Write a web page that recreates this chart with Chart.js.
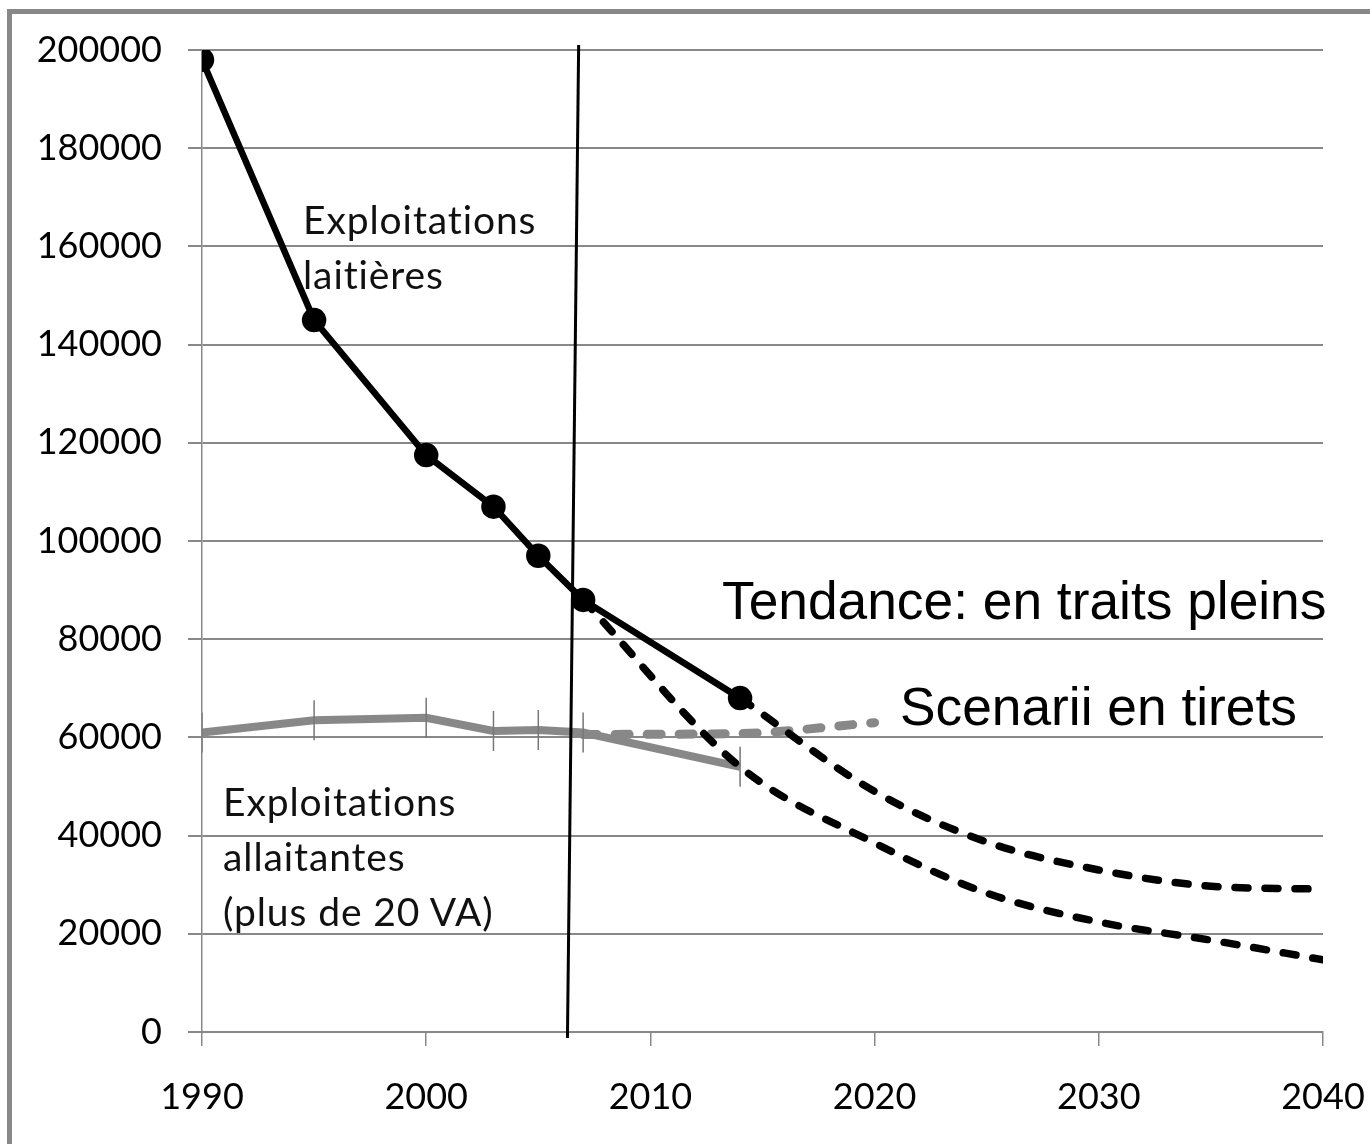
<!DOCTYPE html>
<html>
<head>
<meta charset="utf-8">
<script src="https://cdn.jsdelivr.net/npm/chart.js@4"></script>
<style>
  body { margin: 0; background: #fff; }
  #wrap { position: relative; width: 1370px; height: 1144px; overflow: hidden; }
  #frame { position: absolute; left: 7px; top: 9px; width: 1400px; height: 1200px;
           border-left: 5px solid #888; border-top: 5px solid #888; }
  canvas { position: absolute; left: 0; top: 0; }
  .note { position: absolute; color: #111; white-space: nowrap;
          font-variant-ligatures: none; font-feature-settings: "liga" 0, "clig" 0; }
  .calibri { font-family: Lato, "Open Sans", sans-serif; font-size: 39px; line-height: 55px; letter-spacing: 0.9px; }
  .arial { font-family: "Liberation Sans", Arial, sans-serif; font-size: 53.3px; line-height: 60px; color: #000; }
</style>
</head>
<body>
<div id="wrap">
  <div id="frame"></div>
  <canvas id="myChart" width="1370" height="1144"></canvas>
  <div class="note calibri" style="left:303px; top:192px;">Exploitations<br>laitières</div>
  <div class="note calibri" style="left:223px; top:774px;">Exploitations<br>allaitantes<br>(plus de 20 VA)</div>
  <div class="note arial" style="left:722px; top:571px;">Tendance: en traits pleins</div>
  <div class="note arial" style="left:900px; top:677px;">Scenarii en tirets</div>
</div>
<script>
// DATA
const years = [1990, 1995, 2000, 2003, 2005, 2007, 2014];
const laitieres = [198000, 145000, 117500, 107000, 97000, 88000, 68000];
const allaitantes = [61000, 63500, 64000, 61300, 61500, 61000, 54000];

const scenHautYears = [2014, 2020, 2025, 2030, 2035, 2040];
const scenHaut = [68000, 49000, 38700, 33000, 29700, 29100];

const scenBasYears = [2007, 2014, 2020, 2025, 2030, 2035, 2040];
const scenBas = [88000, 54000, 38500, 28300, 22400, 18700, 14700];

const scenAllaitYears = [2007, 2014, 2020];
const scenAllait = [60600, 60800, 63000];

// hand drawn separator line (slightly tilted)
const separatorYears = [2006.8, 2006.3];
const separatorValues = [201000, -1200];

const xTicks = [1990, 2000, 2010, 2020, 2030, 2040];
const yTicks = [0, 20000, 40000, 60000, 80000, 100000, 120000, 140000, 160000, 180000, 200000];

function pts(xs, ys) {
  return xs.map(function (x, i) {
    return { x: x, y: ys[i] };
  });
}

const ctx = document.getElementById("myChart").getContext("2d");

const chart = new Chart(ctx, {
  type: "line",
  data: {
    datasets: [
      {
        data: pts(separatorYears, separatorValues),
        borderColor: "#000",
        borderWidth: 3,
        pointRadius: 0,
        clip: false,
      },
      {
        data: pts(years, laitieres),
        borderColor: "#000",
        borderWidth: 6.5,
        pointRadius: 9,
        pointBackgroundColor: "#000",
        pointBorderColor: "#000",
        tension: 0,
      },
      {
        data: pts(scenHautYears, scenHaut),
        borderColor: "#000",
        borderWidth: 7.5,
        borderDash: [13, 17],
        borderCapStyle: "round",
        pointRadius: 0,
        cubicInterpolationMode: "monotone",
      },
      {
        data: pts(scenBasYears, scenBas),
        borderColor: "#000",
        borderWidth: 7.5,
        borderDash: [13, 17],
        borderCapStyle: "round",
        pointRadius: 0,
        cubicInterpolationMode: "monotone",
      },
      {
        data: pts(years, allaitantes),
        borderColor: "#888",
        borderWidth: 8,
        pointStyle: "line",
        rotation: 90,
        pointRadius: 20,
        pointBorderWidth: 1.5,
        pointBorderColor: "#777",
        tension: 0,
      },
      {
        data: pts(scenAllaitYears, scenAllait),
        borderColor: "#888",
        borderWidth: 9,
        borderDash: [14, 18],
        borderCapStyle: "round",
        pointRadius: 0,
        cubicInterpolationMode: "monotone",
      },
    ],
  },
  options: {
    responsive: false,
    animation: false,
    layout: {
      padding: { left: 0, right: 47, top: 50, bottom: 0 },
    },
    plugins: {
      legend: { display: false },
      tooltip: { enabled: false },
    },
    scales: {
      x: {
        type: "linear",
        min: 1990,
        max: 2040,
        afterBuildTicks: function (scale) {
          scale.ticks = xTicks.map(function (v) { return { value: v }; });
        },
        afterFit: function (scale) {
          scale.height = 112;
          scale.paddingLeft = 0;
          scale.paddingRight = 0;
        },
        grid: {
          drawOnChartArea: false,
          drawTicks: true,
          tickLength: 14,
          color: "#888",
          lineWidth: 1.5,
        },
        border: { color: "#888", width: 2 },
        ticks: {
          padding: 30,
          color: "#000",
          font: { family: "Lato", size: 36 },
          maxRotation: 0,
          callback: function (value) { return String(value); },
        },
      },
      y: {
        min: 0,
        max: 200000,
        afterBuildTicks: function (scale) {
          scale.ticks = yTicks.map(function (v) { return { value: v }; });
        },
        afterFit: function (scale) {
          scale.width = 202;
        },
        grid: {
          color: "#888",
          lineWidth: 2,
          tickLength: 14,
        },
        border: { color: "#888", width: 1.5 },
        ticks: {
          padding: 26,
          color: "#000",
          font: { family: "Lato", size: 36 },
          callback: function (value) { return String(value); },
        },
      },
    },
  },
});
</script>
</body>
</html>
